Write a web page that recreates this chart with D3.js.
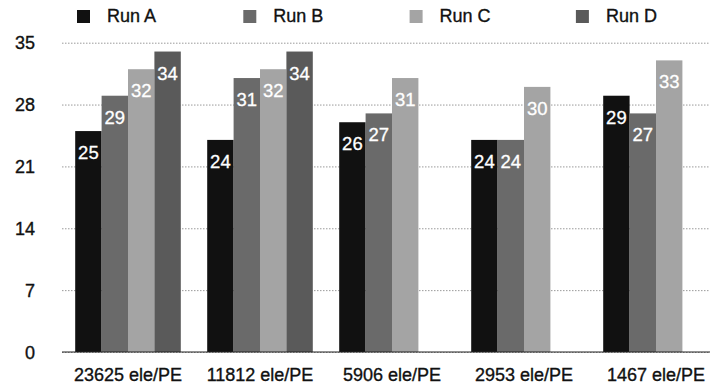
<!DOCTYPE html>
<html>
<head>
<meta charset="utf-8">
<script src="https://cdn.jsdelivr.net/npm/d3@7"></script>
<style>
  html, body { margin: 0; padding: 0; background: #fff; }
  svg { display: block; font-family: "Liberation Sans", Arial, Helvetica, sans-serif; }
  .ink { stroke: #111; stroke-width: 0.35px; }
</style>
</head>
<body>
<svg id="chart" width="710" height="392"></svg>
<script>
// Data
const categories = ["23625 ele/PE", "11812 ele/PE", "5906 ele/PE", "2953 ele/PE", "1467 ele/PE"];
const runs = ["Run A", "Run B", "Run C", "Run D"];
const runA = [25, 24, 26, 24, 29];
const runB = [29, 31, 27, 24, 27];
const runC = [32, 32, 31, 30, 33];
const runD = [34, 34, null, null, null];
const yTicks = [0, 7, 14, 21, 28, 35];

const seriesValues = [runA, runB, runC, runD];
const colors = ["#111111", "#6a6a6a", "#a4a4a4", "#5a5a5a"];

const svg = d3.select("#chart");
const W = 710, H = 392;
const left = 62, baseY = 352, topY = 42.7;

const x0 = d3.scaleBand()
  .domain(categories)
  .range([left, 722])
  .paddingInner(0.2)
  .paddingOuter(0.1);

const x1 = d3.scaleBand()
  .domain(runs)
  .range([0, x0.bandwidth()])
  .padding(0);

const y = d3.scaleLinear()
  .domain([0, 35])
  .range([baseY, topY]);

const color = d3.scaleOrdinal().domain(runs).range(colors);

// Gridlines and value axis labels
const yAxis = d3.axisLeft(y)
  .tickValues(yTicks)
  .tickSize(-(W - left))
  .tickFormat(d3.format("d"))
  .tickPadding(27);

const gy = svg.append("g")
  .attr("transform", `translate(${left},0)`)
  .call(yAxis);
gy.select(".domain").remove();
gy.selectAll(".tick line")
  .attr("stroke", "#9a9a9a")
  .attr("stroke-width", 1)
  .attr("stroke-dasharray", "1.5,1.5");
gy.selectAll(".tick text")
  .attr("class", "ink")
  .attr("fill", "#111")
  .attr("font-size", 18)
  .attr("dy", "0.34em");

// Bars
const rows = categories.map((c, i) => ({
  cat: c,
  vals: runs.map((r, j) => ({ run: r, value: seriesValues[j][i] }))
    .filter(d => d.value != null)
}));

const groups = svg.append("g").selectAll("g")
  .data(rows)
  .join("g")
  .attr("transform", d => `translate(${x0(d.cat)},0)`);

groups.selectAll("rect")
  .data(d => d.vals)
  .join("rect")
  .attr("x", d => x1(d.run))
  .attr("y", d => y(d.value))
  .attr("width", x1.bandwidth())
  .attr("height", d => y(0) - y(d.value))
  .attr("fill", d => color(d.run));

groups.selectAll("text")
  .data(d => d.vals)
  .join("text")
  .attr("x", d => x1(d.run) + x1.bandwidth() / 2)
  .attr("y", d => y(d.value) + 28)
  .attr("text-anchor", "middle")
  .attr("font-size", 18.5)
  .attr("fill", "#fff")
  .attr("stroke", "#fff")
  .attr("stroke-width", 0.3)
  .text(d => d3.format("d")(d.value));

// Baseline
svg.append("line")
  .attr("x1", left).attr("x2", W)
  .attr("y1", y(0)).attr("y2", y(0))
  .attr("stroke", "#222")
  .attr("stroke-width", 1.2);

// Category axis labels
const xAxis = d3.axisBottom(x0).tickSize(0).tickPadding(16);
const gx = svg.append("g")
  .attr("transform", `translate(0,${baseY})`)
  .call(xAxis);
gx.select(".domain").remove();
gx.selectAll(".tick text")
  .attr("class", "ink")
  .attr("fill", "#111")
  .attr("font-size", 18);

// Legend
const legend = svg.append("g").selectAll("g")
  .data(runs)
  .join("g")
  .attr("transform", (d, i) => `translate(${77 + i * 166.3},0)`);

legend.append("rect")
  .attr("x", 0).attr("y", 10)
  .attr("width", 13).attr("height", 13)
  .attr("fill", d => color(d));

legend.append("text")
  .attr("class", "ink")
  .attr("x", 30).attr("y", 22)
  .attr("font-size", 18)
  .attr("fill", "#111")
  .text(d => d);
</script>
</body>
</html>
